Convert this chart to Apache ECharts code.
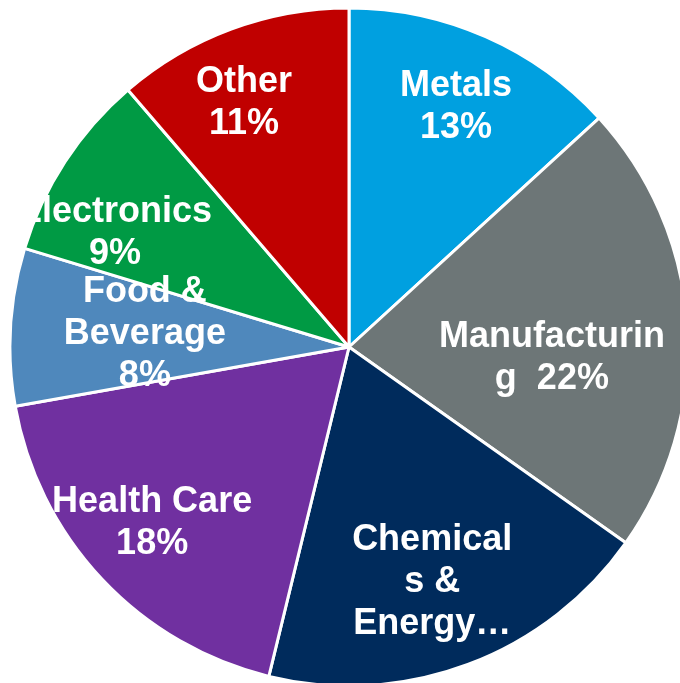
<!DOCTYPE html>
<html>
<head>
<meta charset="utf-8">
<script src="https://cdn.jsdelivr.net/npm/echarts@6/dist/echarts.min.js"></script>
<style>html,body{margin:0;padding:0;background:#fff;}#chart{width:680px;height:683px;}</style>
</head>
<body>
<div id="chart"></div>
<script>
// Data (slice sizes; labels show them rounded)
const categories = ['Metals', 'Manufacturing', 'Chemicals & Energy', 'Health Care', 'Food & Beverage', 'Electronics', 'Other'];
const shares = [13.2, 21.6, 19.0, 18.4, 7.5, 9.0, 11.3];
// Label texts as wrapped in the reference ({p} = rounded percentage)
const labelLines = ['Metals\n{p}', 'Manufacturin\ng  {p}', 'Chemical\ns &\nEnergy…', 'Health Care\n{p}', 'Food &\nBeverage\n{p}', 'Electronics\n{p}', 'Other\n{p}'];

// Styles / layout
const colors = ['#00A0E0', '#6D7677', '#002B5C', '#7030A0', '#4F88BC', '#009A44', '#C00000'];
const CX = 349, CY = 347, R = 339;
const labelRadius = [0.783, 0.599, 0.727, 0.773, 0.604, 0.772, 0.792];
const labelAngleShift = [0, 5.9, 0.8, 1.9, 1.1, -6.5, -2.7];
const labelDrop = 3;

const total = shares.reduce((a, b) => a + b, 0);
const midAngles = [];
let acc = 0;
shares.forEach(v => { midAngles.push((acc + v / 2) / total * 360); acc += v; });

const chart = echarts.init(document.getElementById('chart'), null, {renderer: 'canvas'});
chart.setOption({
  animation: false,
  backgroundColor: '#ffffff',
  series: [{
    type: 'pie',
    center: [CX, CY],
    radius: [0, R],
    startAngle: 90,
    clockwise: true,
    avoidLabelOverlap: false,
    itemStyle: {borderColor: '#ffffff', borderWidth: 3},
    label: {
      show: true,
      position: 'inside',
      color: '#ffffff',
      fontFamily: '"Liberation Sans", Arial, sans-serif',
      fontWeight: 'bold',
      fontSize: 36,
      lineHeight: 42,
      align: 'center',
      formatter: p => labelLines[p.dataIndex].replace('{p}', Math.round(p.value) + '%')
    },
    labelLine: {show: false},
    labelLayout: function (params) {
      const i = params.dataIndex;
      const a = (midAngles[i] + labelAngleShift[i]) * Math.PI / 180;
      const d = labelRadius[i] * R;
      return {x: CX + d * Math.sin(a), y: CY - d * Math.cos(a) + labelDrop, align: 'center', verticalAlign: 'middle'};
    },
    emphasis: {disabled: true},
    data: categories.map((c, i) => ({name: c, value: shares[i], itemStyle: {color: colors[i]}}))
  }]
});
</script>
</body>
</html>
